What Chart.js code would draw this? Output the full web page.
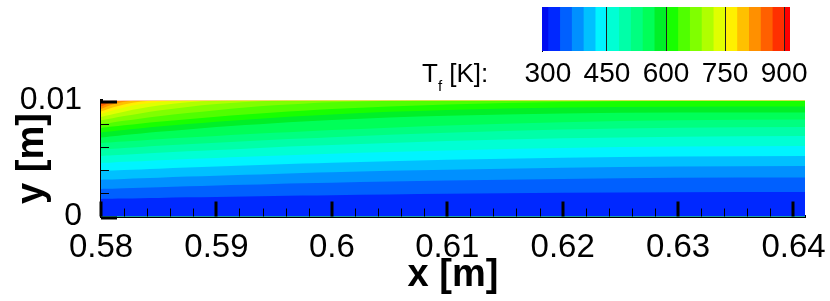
<!DOCTYPE html>
<html><head><meta charset="utf-8">
<script src="https://cdn.jsdelivr.net/npm/chart.js@4.4.1/dist/chart.umd.min.js"></script>
<style>
html,body{margin:0;padding:0;background:#fff;}
#wrap{position:relative;width:830px;height:301px;overflow:hidden;background:#fff;}
#main{position:absolute;left:0;top:0;}
#bar{position:absolute;left:410px;top:0;}
</style></head><body>
<div id="wrap"><canvas id="main" width="830" height="301"></canvas><canvas id="bar" width="420" height="100"></canvas></div>
<script>
// ---- data (x in m, isotherm heights in mm) ----
const xPositions = [0.58, 0.5805, 0.581, 0.582, 0.5835, 0.585, 0.5875, 0.59, 0.5925, 0.595, 0.5975, 0.6, 0.605, 0.61, 0.62, 0.63, 0.641];
const iso330 = [1.51, 1.52, 1.53, 1.55, 1.58, 1.60, 1.65, 1.69, 1.73, 1.77, 1.80, 1.84, 1.90, 1.96, 2.04, 2.09, 2.11];
const iso360 = [2.37, 2.39, 2.40, 2.43, 2.48, 2.53, 2.60, 2.67, 2.73, 2.80, 2.86, 2.91, 3.01, 3.11, 3.24, 3.33, 3.36];
const iso390 = [3.16, 3.18, 3.20, 3.24, 3.29, 3.35, 3.44, 3.52, 3.60, 3.67, 3.75, 3.81, 3.94, 4.04, 4.21, 4.31, 4.35];
const iso420 = [3.92, 3.94, 3.96, 4.01, 4.06, 4.12, 4.22, 4.31, 4.40, 4.48, 4.56, 4.63, 4.77, 4.89, 5.07, 5.18, 5.22];
const iso450 = [4.61, 4.63, 4.66, 4.71, 4.77, 4.84, 4.95, 5.05, 5.15, 5.24, 5.33, 5.42, 5.57, 5.70, 5.91, 6.03, 6.08];
const iso480 = [5.22, 5.25, 5.28, 5.33, 5.41, 5.49, 5.62, 5.74, 5.85, 5.96, 6.07, 6.16, 6.34, 6.50, 6.74, 6.88, 6.94];
const iso510 = [5.78, 5.81, 5.84, 5.91, 6.00, 6.09, 6.23, 6.36, 6.49, 6.62, 6.73, 6.84, 7.04, 7.22, 7.49, 7.66, 7.72];
const iso540 = [6.34, 6.37, 6.41, 6.47, 6.56, 6.66, 6.81, 6.95, 7.08, 7.21, 7.33, 7.45, 7.66, 7.84, 8.12, 8.29, 8.36];
const iso570 = [6.81, 6.86, 6.91, 7.02, 7.16, 7.30, 7.51, 7.71, 7.88, 8.04, 8.19, 8.31, 8.53, 8.69, 8.88, 8.96, 8.97];
const iso600 = [7.24, 7.30, 7.35, 7.45, 7.60, 7.75, 7.97, 8.17, 8.35, 8.52, 8.67, 8.80, 9.02, 9.19, 9.39, 9.47, 9.48];
const iso630 = [7.64, 7.70, 7.75, 7.86, 8.02, 8.16, 8.39, 8.60, 8.79, 8.97, 9.12, 9.26, 9.48, 9.66, 9.87, 9.95, 9.96];
const iso660 = [7.97, 8.04, 8.11, 8.25, 8.45, 8.64, 8.92, 9.17, 9.39, 9.58, 9.73, 9.84, 9.98, 10, 10, 10, 10];
const iso690 = [8.28, 8.38, 8.47, 8.66, 8.91, 9.13, 9.45, 9.70, 9.87, 9.97, 10, 10, 10, 10, 10, 10, 10];
const iso720 = [8.58, 8.70, 8.82, 9.04, 9.33, 9.57, 9.85, 9.98, 10, 10, 10, 10, 10, 10, 10, 10, 10];
const iso750 = [8.84, 8.99, 9.14, 9.39, 9.69, 9.88, 10, 10, 10, 10, 10, 10, 10, 10, 10, 10, 10];
const iso780 = [9.05, 9.23, 9.39, 9.66, 9.92, 10, 10, 10, 10, 10, 10, 10, 10, 10, 10, 10, 10];
const iso810 = [9.27, 9.48, 9.65, 9.89, 10, 10, 10, 10, 10, 10, 10, 10, 10, 10, 10, 10, 10];
const iso840 = [9.48, 9.70, 9.86, 10, 10, 10, 10, 10, 10, 10, 10, 10, 10, 10, 10, 10, 10];
const iso870 = [9.70, 9.89, 9.99, 10, 10, 10, 10, 10, 10, 10, 10, 10, 10, 10, 10, 10, 10];
const topEdge = [10, 10, 10, 10, 10, 10, 10, 10, 10, 10, 10, 10, 10, 10, 10, 10, 10];

// contour levels (K) and band colours (band i spans levels[i]..levels[i+1])
const levels = [300, 330, 360, 390, 420, 450, 480, 510, 540, 570, 600, 630, 660, 690, 720, 750, 780, 810, 840, 870, 900];
const bandColors = ['#0028ff', '#0060ff', '#0090ff', '#00c0ff', '#00f4ff', '#00ffd4', '#00ffa8', '#00ff80', '#00ff58', '#00f028',
                    '#18ff00', '#50ff00', '#80ff00', '#b0ff00', '#e0ff00', '#fff000', '#ffc000', '#ff9000', '#ff6000', '#ff3000'];
const belowColor = '#000cf0';
const aboveColor = '#ff0000';
const legendRange = [285, 915];
const legendTicks = [300, 450, 600, 750, 900];
const legendTickLabels = ['300', '450', '600', '750', '900'];

const xTickValues = [0.58, 0.59, 0.6, 0.61, 0.62, 0.63, 0.64];
const xTickLabels = ['0.58', '0.59', '0.6', '0.61', '0.62', '0.63', '0.64'];
const xMinorTicks = [0.582, 0.584, 0.586, 0.588, 0.592, 0.594, 0.596, 0.598, 0.602, 0.604, 0.606, 0.608,
                     0.612, 0.614, 0.616, 0.618, 0.622, 0.624, 0.626, 0.628, 0.632, 0.634, 0.636, 0.638];
const yTickValues = [0, 0.01];
const yTickLabels = ['0', '0.01'];
const yMinorTicks = [0.002, 0.004, 0.006, 0.008];

const isotherms = [iso330, iso360, iso390, iso420, iso450, iso480, iso510, iso540, iso570, iso600,
                   iso630, iso660, iso690, iso720, iso750, iso780, iso810, iso840, iso870, topEdge];

Chart.defaults.font.family = '"Liberation Sans", Arial, Helvetica, sans-serif';
Chart.defaults.color = '#000';

// each band is filled from y=0 up to its upper isotherm; lower bands paint over higher ones
const datasets = isotherms.map((arr, i) => ({
  data: arr.map((v, j) => ({x: xPositions[j], y: v / 1000})),
  fill: 'origin',
  backgroundColor: bandColors[i],
  borderWidth: 0,
  pointRadius: 0,
  cubicInterpolationMode: 'monotone'
}));

const insideTicks = {
  id: 'insideTicks',
  afterDraw(chart) {
    const {ctx, chartArea: a, scales: {x, y}} = chart;
    ctx.save();
    ctx.strokeStyle = '#000';
    const seg = (x1, y1, x2, y2, w) => { ctx.lineWidth = w; ctx.beginPath(); ctx.moveTo(x1, y1); ctx.lineTo(x2, y2); ctx.stroke(); };
    xMinorTicks.forEach(v => { const p = Math.round(x.getPixelForValue(v)) + 0.5; seg(p, a.bottom, p, a.bottom - 8, 1); });
    xTickValues.forEach(v => { const p = Math.round(x.getPixelForValue(v)); seg(p, a.bottom, p, a.bottom - 15, 3); });
    yMinorTicks.forEach(v => { const p = Math.round(y.getPixelForValue(v)) + 0.5; seg(a.left, p, a.left + 8, p, 1); });
    yTickValues.forEach(v => { const p = Math.round(y.getPixelForValue(v)) + 1; seg(a.left, p, a.left + 16, p, 3); });
    ctx.restore();
  }
};

new Chart(document.getElementById('main'), {
  type: 'line',
  data: {datasets},
  plugins: [insideTicks],
  options: {
    responsive: false, animation: false, devicePixelRatio: 1,
    layout: {padding: {left: 0, right: 24, top: 100.5, bottom: 0}},
    plugins: {legend: {display: false}, tooltip: {enabled: false}},
    elements: {line: {borderWidth: 0}},
    scales: {
      x: {
        type: 'linear', min: 0.58, max: 0.641,
        afterBuildTicks: s => { s.ticks = xTickValues.map(v => ({value: v})); },
        afterFit: s => { s.height = 84.5; },
        ticks: {callback: (v, i) => xTickLabels[i], font: {size: 33}, padding: 4, maxRotation: 0, autoSkip: false, color: '#000'},
        grid: {display: false},
        border: {display: true, color: '#000', width: 3},
        title: {display: true, text: 'x [m]', color: '#000', font: {size: 38, weight: 'bold'}, padding: {top: 0, bottom: 3}}
      },
      y: {
        type: 'linear', min: 0, max: 0.01,
        afterBuildTicks: s => { s.ticks = yTickValues.map(v => ({value: v})); },
        afterFit: s => { s.width = 101; },
        ticks: {callback: (v, i) => yTickLabels[i], font: {size: 32}, padding: 11, color: '#000'},
        grid: {display: false},
        border: {display: true, color: '#000', width: 3},
        title: {display: true, text: 'y [m]', color: '#000', font: {size: 38, weight: 'bold'}, padding: {top: 10, bottom: 0}}
      }
    }
  }
});

// ---- colour legend ----
const edges = [legendRange[0]].concat(levels, [legendRange[1]]);
const legendColors = [belowColor].concat(bandColors, [aboveColor]);
const legendSets = legendColors.map((c, i) => ({
  data: [[legendRange[0], edges[i + 1]]],
  backgroundColor: c, borderWidth: 0, barPercentage: 1, categoryPercentage: 1, grouped: false
}));

const legendTitle = {
  id: 'legendTitle',
  afterDraw(chart) {
    const ctx = chart.ctx;
    ctx.save();
    ctx.fillStyle = '#000';
    ctx.textBaseline = 'alphabetic';
    ctx.font = '26px "Liberation Sans", Arial, sans-serif';
    ctx.fillText('T', 12, 82);
    const tw = ctx.measureText('T').width;
    ctx.font = '15px "Liberation Sans", Arial, sans-serif';
    ctx.fillText('f', 12 + tw, 91);
    const fw = ctx.measureText('f').width;
    ctx.font = '26px "Liberation Sans", Arial, sans-serif';
    ctx.fillText(' [K]:', 12 + tw + fw, 82);
    ctx.restore();
  }
};

new Chart(document.getElementById('bar'), {
  type: 'bar',
  data: {labels: [''], datasets: legendSets},
  plugins: [legendTitle],
  options: {
    indexAxis: 'y', responsive: false, animation: false, devicePixelRatio: 1,
    layout: {padding: {left: 132, right: 40, top: 7, bottom: 0}},
    plugins: {legend: {display: false}, tooltip: {enabled: false}},
    scales: {
      x: {
        type: 'linear', min: legendRange[0], max: legendRange[1],
        afterBuildTicks: s => { s.ticks = legendTicks.map(v => ({value: v})); },
        afterFit: s => { s.height = 49; },
        ticks: {callback: (v, i) => legendTickLabels[i], font: {size: 28}, padding: 6, maxRotation: 0, autoSkip: false, color: '#000'},
        grid: {display: true, drawOnChartArea: true, drawTicks: false, z: 1, lineWidth: 1,
               color: c => (c.tick && c.tick.value === 300) ? 'rgba(0,0,0,0)' : '#202020'},
        border: {display: false}
      },
      y: {
        display: true,
        ticks: {display: false},
        grid: {display: false, drawTicks: false},
        border: {display: true, color: '#000', width: 1}
      }
    }
  }
});
</script>
</body></html>
